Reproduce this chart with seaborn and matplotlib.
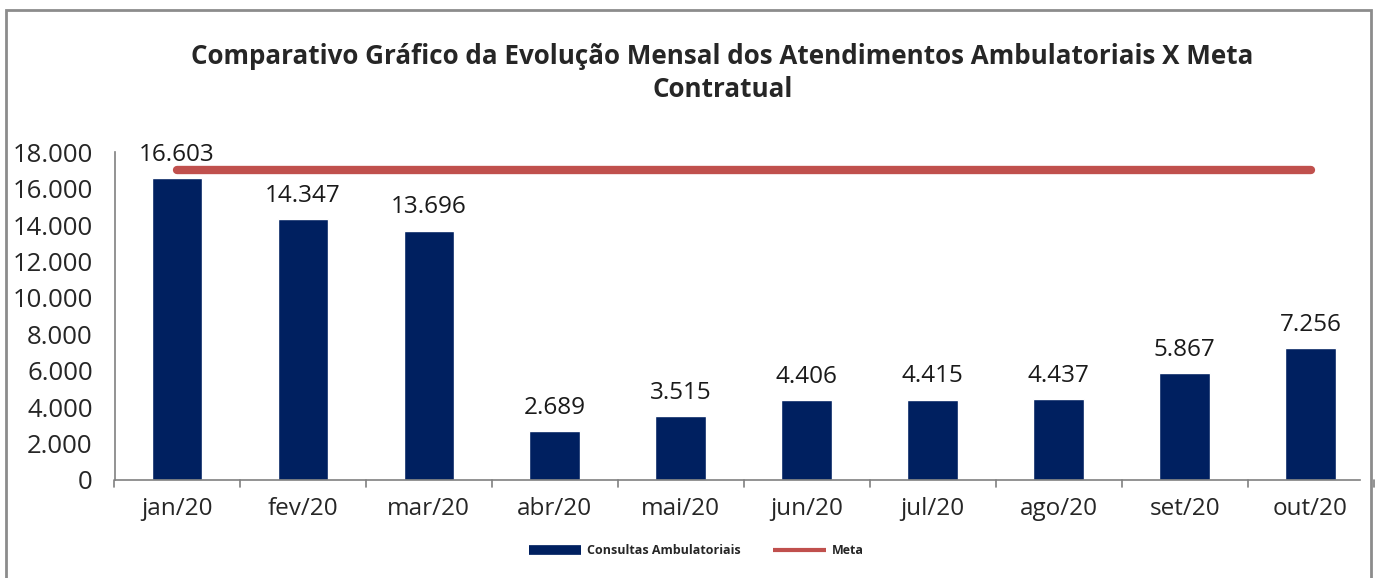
import seaborn as sns
import matplotlib.pyplot as plt
from matplotlib.patches import Rectangle
from matplotlib.lines import Line2D

# Data
months = ["jan/20", "fev/20", "mar/20", "abr/20", "mai/20",
          "jun/20", "jul/20", "ago/20", "set/20", "out/20"]
consultas = [16603, 14347, 13696, 2689, 3515, 4406, 4415, 4437, 5867, 7256]
meta = [17000] * len(months)
y_ticks = [0, 2000, 4000, 6000, 8000, 10000, 12000, 14000, 16000, 18000]

bar_color = "#002060"
meta_color = "#C0504D"

sns.set_style("white")
plt.rcParams['font.family'] = ['Open Sans', 'DejaVu Sans']

fig = plt.figure(figsize=(13.79, 5.78), dpi=100)
ax = fig.add_axes([0.0834, 0.1696, 0.9026, 0.567])

# bars
sns.barplot(x=months, y=consultas, color=bar_color, width=0.4,
            saturation=1, ax=ax)

# meta line
sns.lineplot(x=list(range(len(months))), y=meta, color=meta_color,
             linewidth=6, ax=ax, solid_capstyle="round", sort=False)

# value labels with dot separator
labels = [f"{v:,}".replace(",", ".") for v in consultas]
ax.bar_label(ax.containers[0], labels=labels, padding=8, fontsize=17.5,
             color="#1a1a1a", clip_on=False)

ax.set_ylim(0, 18000)
ax.set_xlim(-0.49, 9.39)
ax.set_yticks(y_ticks)
ax.set_yticklabels([f"{v:,}".replace(",", ".") for v in y_ticks], fontsize=18.5)
ax.set_xticks(range(len(months)))
ax.set_xticklabels(months, fontsize=17.5)
ax.tick_params(axis="x", length=0, pad=12)
ax.tick_params(axis="y", length=8, width=1.2, color="#808080", direction="out", pad=8)

# x tick marks between categories
for b in [i + 0.5 for i in range(-1, len(months))]:
    ax.plot([b, b], [0, -0.022], transform=ax.get_xaxis_transform(),
            color="#808080", lw=1.2, clip_on=False)

for s in ["top", "right"]:
    ax.spines[s].set_visible(False)
for s in ["left", "bottom"]:
    ax.spines[s].set_color("#808080")
    ax.spines[s].set_linewidth(1.2)

# title
fig.text(0.524, 0.902, "Comparativo Gráfico da Evolução Mensal dos Atendimentos Ambulatoriais X Meta",
         ha="center", va="center", fontsize=18.7, fontweight="bold")
fig.text(0.524, 0.845, "Contratual", ha="center", va="center",
         fontsize=18.7, fontweight="bold")

# legend
handles = [Line2D([0], [0], color=bar_color, lw=7, solid_capstyle="butt"),
           Line2D([0], [0], color=meta_color, lw=3, solid_capstyle="butt")]
fig.legend(handles, ["Consultas Ambulatoriais", "Meta"], loc="center",
           bbox_to_anchor=(0.505, 0.047), ncol=2, frameon=False,
           prop={"size": 9, "weight": "bold"}, handlelength=4.2,
           columnspacing=2.6, handletextpad=0.5)

# outer frame
fig.patches.append(Rectangle((0.004, -0.01), 0.99, 0.993, transform=fig.transFigure,
                             fill=False, edgecolor="#8c8c8c", lw=2))

fig.savefig("out.png", dpi=100)
